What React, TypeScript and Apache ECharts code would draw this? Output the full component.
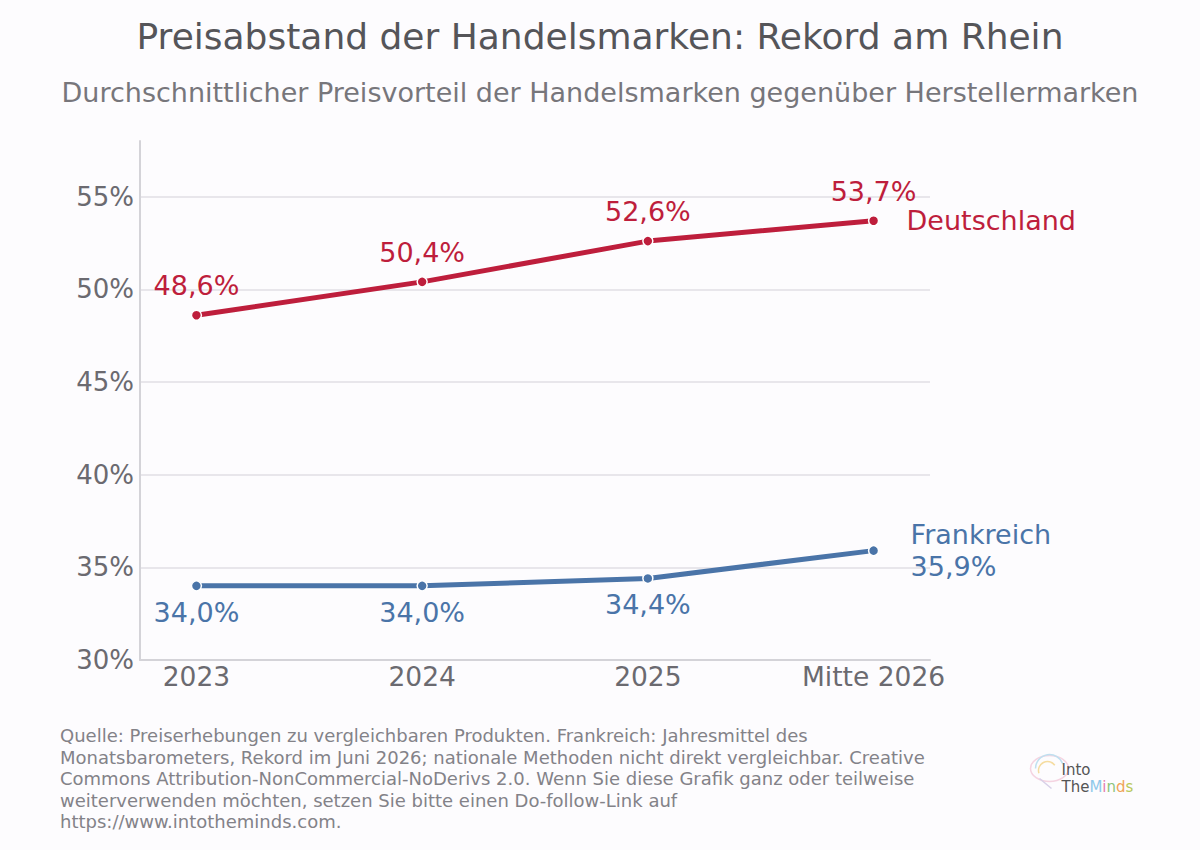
import React, { useEffect, useRef } from "react";
import * as echarts from "echarts";

const categories = ["2023", "2024", "2025", "Mitte 2026"];
const deutschland = [48.6, 50.4, 52.6, 53.7];
const frankreich = [34.0, 34.0, 34.4, 35.9];
const yTicks = [30, 35, 40, 45, 50, 55];

const RED = "#BE1E3C";
const BLUE = "#4A74A8";
const FONT = "DejaVu Sans";

const fmt = (v: number) => v.toFixed(1).replace(".", ",") + "%";

const footerLines = [
  "Quelle: Preiserhebungen zu vergleichbaren Produkten. Frankreich: Jahresmittel des",
  "Monatsbarometers, Rekord im Juni 2026; nationale Methoden nicht direkt vergleichbar. Creative",
  "Commons Attribution-NonCommercial-NoDerivs 2.0. Wenn Sie diese Grafik ganz oder teilweise",
  "weiterverwenden möchten, setzen Sie bitte einen Do-follow-Link auf",
  "https://www.intotheminds.com.",
];

export default function App() {
  const ref = useRef<HTMLDivElement>(null);
  useEffect(() => {
    document.body.style.margin = "0";
    if (!ref.current) return;
    const chart = echarts.init(ref.current, undefined, { renderer: "svg" });

    const mkData = (arr: number[], pos: "top" | "bottom", hideLast: boolean, dist: number) =>
      arr.map((v, i) => ({
        value: [i, v],
        label: {
          show: !(hideLast && i === arr.length - 1),
          position: pos,
          distance: dist,
          formatter: () => fmt(v),
        },
      }));

    const logoRich = (fill: string) => ({ fontSize: 15, lineHeight: 17, fill, fontFamily: FONT });

    chart.setOption({
      animation: false,
      backgroundColor: "#fdfcfe",
      textStyle: { fontFamily: FONT },
      title: [
        {
          text: "Preisabstand der Handelsmarken: Rekord am Rhein",
          left: "center",
          top: 13,
          textStyle: { fontFamily: FONT, fontSize: 36, fontWeight: "normal", color: "#555559" },
        },
        {
          text: "Durchschnittlicher Preisvorteil der Handelsmarken gegenüber Herstellermarken",
          left: "center",
          top: 74,
          textStyle: { fontFamily: FONT, fontSize: 27, fontWeight: "normal", color: "#77767b" },
        },
      ],
      grid: { left: 140, right: 270, top: 141, bottom: 190, containLabel: false },
      xAxis: {
        type: "value",
        min: -0.25,
        max: 3.25,
        axisLine: { show: true, onZero: false, lineStyle: { color: "#d4d3d8", width: 2 } },
        axisTick: { show: false },
        splitLine: { show: false },
        axisLabel: {
          customValues: [0, 1, 2, 3],
          formatter: (v: number) => categories[Math.round(v)] ?? "",
          fontSize: 26.5,
          color: "#6b6a70",
          fontFamily: FONT,
          margin: 3,
        },
      },
      yAxis: {
        type: "value",
        min: 30,
        max: 58,
        interval: 5,
        axisLine: { show: true, onZero: false, lineStyle: { color: "#d4d3d8", width: 2 } },
        axisTick: { show: false, customValues: yTicks },
        splitLine: { show: true, lineStyle: { color: "#e0dfe4", width: 1.5 } },
        axisLabel: {
          customValues: yTicks,
          formatter: (v: number) => v + "%",
          fontSize: 26,
          color: "#6b6a70",
          fontFamily: FONT,
          margin: 6,
        },
      },
      series: [
        {
          name: "Deutschland",
          type: "line",
          data: mkData(deutschland, "top", false, 10),
          lineStyle: { color: RED, width: 5 },
          itemStyle: { color: RED, borderColor: "#ffffff", borderWidth: 1.5 },
          symbol: "circle",
          symbolSize: 10,
          label: { fontSize: 27, color: RED, fontFamily: FONT },
          endLabel: {
            show: true,
            formatter: "Deutschland",
            distance: 33,
            fontSize: 27,
            color: RED,
            fontFamily: FONT,
          },
        },
        {
          name: "Frankreich",
          type: "line",
          data: mkData(frankreich, "bottom", true, 7),
          lineStyle: { color: BLUE, width: 5 },
          itemStyle: { color: BLUE, borderColor: "#ffffff", borderWidth: 1.5 },
          symbol: "circle",
          symbolSize: 10,
          label: { fontSize: 27, color: BLUE, fontFamily: FONT },
          endLabel: {
            show: true,
            formatter: () => "Frankreich\n" + fmt(frankreich[frankreich.length - 1]),
            distance: 37,
            fontSize: 27,
            lineHeight: 32,
            align: "left",
            color: BLUE,
            fontFamily: FONT,
          },
        },
      ],
      graphic: [
        {
          type: "text",
          left: 60,
          top: 725,
          style: {
            text: footerLines.join("\n"),
            fontSize: 18,
            lineHeight: 21.5,
            fill: "#838288",
            fontFamily: FONT,
          },
        },
        {
          type: "group",
          left: 1028,
          top: 752,
          children: [
            { type: "ellipse", shape: { cx: 20, cy: 16, rx: 19, ry: 13 }, style: { fill: "none", stroke: "#f3c9d9", lineWidth: 1.5, opacity: 0.8 } },
            { type: "arc", shape: { cx: 20, cy: 16, r: 14, startAngle: Math.PI, endAngle: Math.PI * 1.9 }, style: { fill: "none", stroke: "#bfe0f0", lineWidth: 1.5 } },
            { type: "arc", shape: { cx: 18, cy: 18, r: 9, startAngle: Math.PI * 0.9, endAngle: Math.PI * 1.8 }, style: { fill: "none", stroke: "#f5dca0", lineWidth: 1.5 } },
            { type: "line", shape: { x1: 10, y1: 26, x2: 22, y2: 36 }, style: { stroke: "#d8d0e8", lineWidth: 1.5 } },
            {
              type: "text",
              x: 32,
              y: 9,
              style: {
                text: "{g|Into}\n{g|The}{b|M}{p|i}{n|n}{o|d}{y|s}",
                fontFamily: FONT,
                rich: {
                  g: logoRich("#555555"),
                  b: logoRich("#8ec8ea"),
                  p: logoRich("#e57fae"),
                  n: logoRich("#8cc47c"),
                  o: logoRich("#f0a35a"),
                  y: logoRich("#b9c85a"),
                },
              },
            },
          ],
        },
      ],
    });
    return () => chart.dispose();
  }, []);
  return <div ref={ref} style={{ width: 1200, height: 850 }} />;
}
